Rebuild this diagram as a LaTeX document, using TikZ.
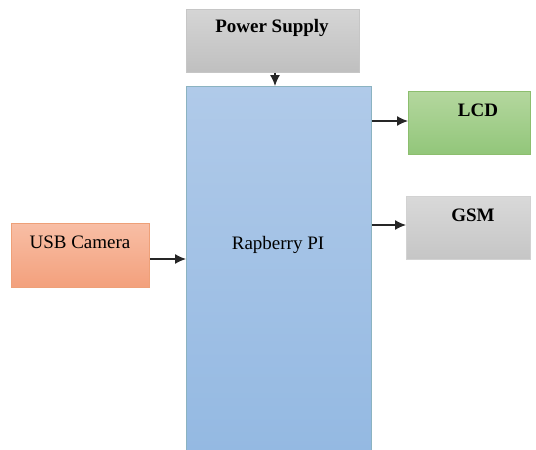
\documentclass[tikz,border=0pt]{standalone}
\usepackage{fontspec}
\setmainfont{Liberation Serif}
\usetikzlibrary{arrows.meta}
\begin{document}
\begin{tikzpicture}[x=1pt,y=-1pt,
  blk/.style={draw, line width=0.8pt, anchor=north west, inner sep=0pt, rectangle},
  lbl/.style={font=\fontsize{19}{22}\selectfont, inner sep=0pt},
  blbl/.style={font=\fontsize{19}{22}\selectfont\bfseries, inner sep=0pt},
  arr/.style={-{Latex[length=11pt,width=10pt]}, line width=1.3pt, black!85}]
\useasboundingbox (0,0) rectangle (536,450);
% boxes
\node[blk, draw=gray!45, top color=gray!33, bottom color=gray!50, minimum width=173pt, minimum height=63pt] (ps) at (186,9) {};
\node[blk, draw=blue!25!cyan!30!gray!70, top color={rgb,255:red,176;green,202;blue,233}, bottom color={rgb,255:red,148;green,185;blue,226}, minimum width=185pt, minimum height=365pt] (pi) at (186,86) {};
\node[blk, draw={rgb,255:red,140;green,190;blue,110}, top color={rgb,255:red,180;green,215;blue,158}, bottom color={rgb,255:red,146;green,198;blue,122}, minimum width=122pt, minimum height=63pt] (lcd) at (408,91) {};
\node[blk, draw=gray!35, top color=gray!30, bottom color=gray!45, minimum width=124pt, minimum height=63pt] (gsm) at (406,196) {};
\node[blk, draw={rgb,255:red,238;green,160;blue,120}, top color={rgb,255:red,248;green,190;blue,165}, bottom color={rgb,255:red,243;green,160;blue,124}, minimum width=138pt, minimum height=64pt] (usb) at (11,223) {};
% labels
\node[blbl] (pst) at (272,28) {Power Supply};
\node[lbl] (pit) at (278,245) {Rapberry PI};
\node[blbl] (lcdt) at (478,110) {LCD};
\node[blbl] (gsmt) at (473,215) {GSM};
\node[lbl] (usbt) at (80,242) {USB Camera};
% arrows
\draw[arr] (ps.south -| 275,0) -- (pi.north -| 275,0);
\draw[arr] (pi.east |- 0,121) -- (lcd.west |- 0,121);
\draw[arr] (pi.east |- 0,225) -- (gsm.west |- 0,225);
\draw[arr] (usb.east |- 0,259) -- (pi.west |- 0,259);
\end{tikzpicture}
\end{document}
